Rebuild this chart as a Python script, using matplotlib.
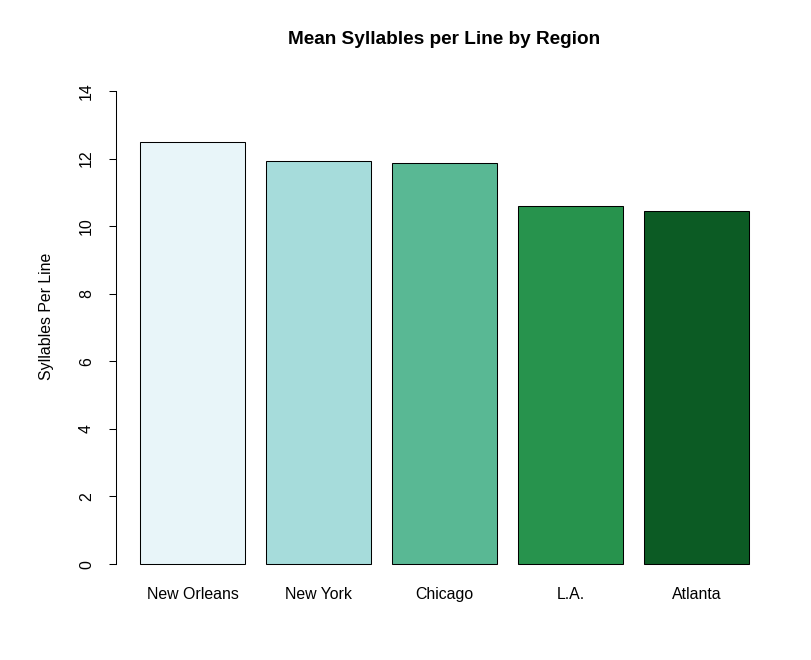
import numpy as np
import matplotlib.pyplot as plt

regions = ["New Orleans", "New York", "Chicago", "L.A.", "Atlanta"]
syllables = [12.49, 11.92, 11.87, 10.60, 10.46]
bar_colors = ["#E8F5F9", "#A6DCDB", "#59B894", "#27934D", "#0C5B24"]
y_ticks = [0, 2, 4, 6, 8, 10, 12, 14]

plt.rcParams["font.family"] = ["Liberation Sans", "DejaVu Sans"]

W, H = 812, 660
fig = plt.figure(figsize=(W / 100, H / 100), dpi=100)
left, right, top, bottom = 115.6, 773.4, 72, 583
ax = fig.add_axes([left / W, 1 - bottom / H, (right - left) / W, (bottom - top) / H])

# R-style barplot layout: width 1, space 0.2
x = 0.2 + 1.2 * np.arange(len(regions)) + 0.5
ax.bar(x, syllables, width=1.0, color=bar_colors, edgecolor="black", linewidth=0.75)

ax.set_xlim(-0.032, 6.232)
ax.set_ylim(-0.56, 14.56)

for s in ["top", "right", "bottom"]:
    ax.spines[s].set_visible(False)
ax.spines["left"].set_bounds(0, 14)
ax.spines["left"].set_linewidth(0.75)

fs = 11.4
ax.set_yticks(y_ticks)
ax.set_yticklabels([str(t) for t in y_ticks], rotation=90, va="center", fontsize=fs)
ax.tick_params(axis="y", length=5, width=0.75, pad=10.5)

ax.set_xticks(x)
ax.set_xticklabels(regions, fontsize=fs)
ax.tick_params(axis="x", length=0, pad=3)

ax.set_ylabel("Syllables Per Line", fontsize=fs)
ax.yaxis.set_label_coords(-0.093, 0.522)

fig.text(444.5 / W, 1 - 40 / H, "Mean Syllables per Line by Region",
         ha="center", va="center", fontsize=13.7, fontweight="bold")

fig.savefig("out.png", dpi=100)
